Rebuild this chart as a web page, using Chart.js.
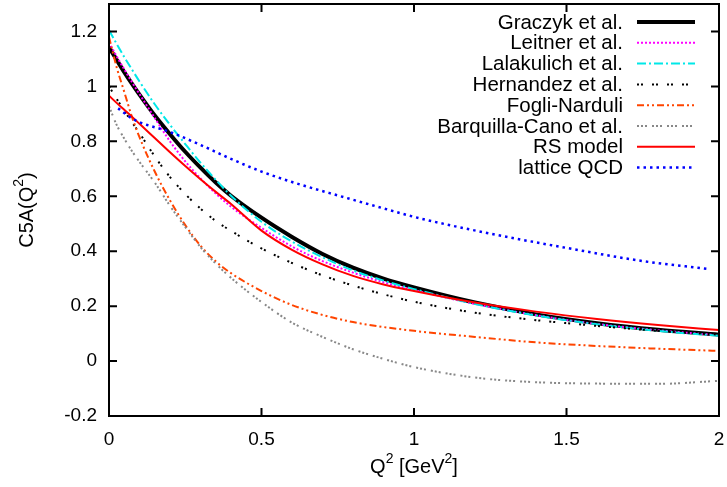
<!DOCTYPE html>
<html>
<head>
<meta charset="utf-8">
<script src="https://cdn.jsdelivr.net/npm/chart.js@4.4.0/dist/chart.umd.min.js"></script>
<style>
  html, body { margin: 0; padding: 0; background: #fff; }
</style>
</head>
<body>
<canvas id="c" width="727" height="487"></canvas>
<script>
// Q^2 grid (GeV^2) shared by the model curves
const qSq = [0, 0.025, 0.05, 0.075, 0.1, 0.15, 0.2, 0.25, 0.3, 0.35, 0.4, 0.5,
             0.6, 0.7, 0.8, 0.9, 1.0, 1.2, 1.4, 1.6, 1.8, 2.0];

const graczyk    = [1.143, 1.097, 1.052, 1.01, 0.97, 0.894, 0.826, 0.762, 0.704, 0.65, 0.602, 0.522,
                    0.452, 0.39, 0.34, 0.3, 0.268, 0.213, 0.17, 0.138, 0.114, 0.096];
const leitner    = [1.16, 1.11, 1.062, 1.016, 0.972, 0.885, 0.8, 0.727, 0.665, 0.61, 0.562, 0.485,
                    0.417, 0.364, 0.322, 0.287, 0.259, 0.208, 0.167, 0.135, 0.112, 0.094];
const lalakulich = [1.205, 1.155, 1.107, 1.062, 1.018, 0.935, 0.86, 0.79, 0.722, 0.66, 0.602, 0.507,
                    0.435, 0.378, 0.33, 0.293, 0.262, 0.208, 0.166, 0.134, 0.11, 0.092];
const hernandez  = [1.0, 0.955, 0.912, 0.87, 0.83, 0.745, 0.67, 0.608, 0.555, 0.51, 0.474, 0.41,
                    0.357, 0.312, 0.275, 0.243, 0.216, 0.176, 0.149, 0.128, 0.11, 0.096];
const fogli      = [1.18, 1.07, 0.98, 0.89, 0.815, 0.69, 0.585, 0.495, 0.42, 0.363, 0.32, 0.255,
                    0.204, 0.168, 0.142, 0.124, 0.11, 0.088, 0.068, 0.055, 0.045, 0.037];
const barquilla  = [0.928, 0.86, 0.81, 0.765, 0.725, 0.65, 0.565, 0.488, 0.415, 0.355, 0.303, 0.215,
                    0.14, 0.088, 0.043, 0.008, -0.022, -0.06, -0.077, -0.082, -0.083, -0.072];
const rsModel    = [0.966, 0.94, 0.915, 0.89, 0.864, 0.812, 0.76, 0.71, 0.662, 0.616, 0.572, 0.475,
                    0.405, 0.352, 0.31, 0.279, 0.255, 0.213, 0.18, 0.153, 0.131, 0.113];

// lattice points have their own Q^2 values
const qSqLattice = [0.03, 0.08, 0.2, 0.3, 0.4, 0.5, 0.6, 0.75, 0.9, 1.0, 1.25, 1.5, 1.75, 1.96];
const lattice    = [0.92, 0.88, 0.834, 0.787, 0.736, 0.69, 0.652, 0.603, 0.556, 0.525, 0.464, 0.412, 0.364, 0.336];

const xTicks = [0, 0.5, 1, 1.5, 2];
const xTickLabels = ['0', '0.5', '1', '1.5', '2'];
const yTicks = [-0.2, 0, 0.2, 0.4, 0.6, 0.8, 1, 1.2];
const yTickLabels = ['-0.2', '0', '0.2', '0.4', '0.6', '0.8', '1', '1.2'];

const FONT = '"Liberation Sans", Arial, sans-serif';

function pts(xs, ys) {
  return xs.map((x, i) => ({ x: x, y: ys[i] }));
}

const series = [
  { label: 'Graczyk et al.', data: pts(qSq, graczyk), color: '#000000', width: 4, dash: [] },
  { label: 'Leitner et al.', data: pts(qSq, leitner), color: '#ff00ff', width: 2, dash: [2, 2] },
  { label: 'Lalakulich et al.', data: pts(qSq, lalakulich), color: '#00e8e8', width: 2, dash: [9, 3, 2, 3] },
  { label: 'Hernandez et al.', data: pts(qSq, hernandez), color: '#000000', width: 2, dash: [2, 2, 2, 9] },
  { label: 'Fogli-Narduli', data: pts(qSq, fogli), color: '#ff4500', width: 2, dash: [7, 3, 2, 3, 2, 3] },
  { label: 'Barquilla-Cano et al.', data: pts(qSq, barquilla), color: '#888888', width: 2, dash: [2, 2, 2, 2, 2, 5] },
  { label: 'RS model', data: pts(qSq, rsModel), color: '#ff0000', width: 2, dash: [] },
  { label: 'lattice QCD', data: pts(qSqLattice, lattice), color: '#0000ff', width: 2.5, dash: [2.5, 4] }
];

// draws text with superscript pieces, parts = [[text, isSup], ...]
function richText(ctx, parts, x, y, size) {
  const big = size + 'px ' + FONT, small = Math.round(size * 0.7) + 'px ' + FONT;
  let w = 0;
  parts.forEach(p => { ctx.font = p[1] ? small : big; w += ctx.measureText(p[0]).width; });
  let cx = x - w / 2;
  ctx.textAlign = 'left';
  ctx.textBaseline = 'middle';
  parts.forEach(p => {
    ctx.font = p[1] ? small : big;
    ctx.fillText(p[0], cx, p[1] ? y - size * 0.38 : y);
    cx += ctx.measureText(p[0]).width;
  });
}

// no extra room for the end labels, the frame is placed by layout padding
function fixScale(s, size) {
  if (s.isHorizontal()) s.height = size; else s.width = size;
  s.paddingTop = 0; s.paddingBottom = 0; s.paddingLeft = 0; s.paddingRight = 0;
}

const gnuplotLook = {
  id: 'gnuplotLook',
  afterDraw(chart) {
    const ctx = chart.ctx, a = chart.chartArea;
    const xs = chart.scales.x, ys = chart.scales.y;
    ctx.save();
    ctx.strokeStyle = '#000';
    ctx.lineWidth = 2;
    ctx.setLineDash([]);
    ctx.strokeRect(a.left, a.top, a.right - a.left, a.bottom - a.top);
    // inward tick marks, mirrored
    const tl = 8;
    ctx.beginPath();
    xTicks.forEach(v => {
      const px = xs.getPixelForValue(v);
      ctx.moveTo(px, a.bottom); ctx.lineTo(px, a.bottom - tl);
      ctx.moveTo(px, a.top); ctx.lineTo(px, a.top + tl);
    });
    yTicks.forEach(v => {
      const py = ys.getPixelForValue(v);
      ctx.moveTo(a.left, py); ctx.lineTo(a.left + tl, py);
      ctx.moveTo(a.right, py); ctx.lineTo(a.right - tl, py);
    });
    ctx.stroke();

    // axis titles
    ctx.fillStyle = '#000';
    richText(ctx, [['Q', false], ['2', true], [' [GeV', false], ['2', true], [']', false]],
             (a.left + a.right) / 2, 467, 20);
    ctx.save();
    ctx.translate(27, (a.top + a.bottom) / 2);
    ctx.rotate(-Math.PI / 2);
    richText(ctx, [['C5A(Q', false], ['2', true], [')', false]], 0, 0, 20);
    ctx.restore();

    // key, text right aligned with the sample to its right
    const textX = 623, lineX0 = 637, lineX1 = 695;
    series.forEach((s, i) => {
      const y = 22 + i * 20.8;
      ctx.font = '20.5px ' + FONT;
      ctx.textAlign = 'right';
      ctx.textBaseline = 'middle';
      ctx.fillStyle = '#000';
      ctx.fillText(s.label, textX, y + 1);
      ctx.beginPath();
      ctx.strokeStyle = s.color;
      ctx.lineWidth = s.width;
      ctx.setLineDash(s.dash);
      ctx.moveTo(lineX0, y);
      ctx.lineTo(lineX1, y);
      ctx.stroke();
    });
    ctx.restore();
  }
};

new Chart(document.getElementById('c'), {
  type: 'line',
  data: {
    datasets: series.map((s, i) => ({
      label: s.label,
      data: s.data,
      borderColor: s.color,
      borderWidth: s.width,
      borderDash: s.dash,
      borderCapStyle: 'butt',
      pointRadius: 0,
      fill: false,
      cubicInterpolationMode: 'monotone',
      order: series.length - i
    }))
  },
  options: {
    responsive: false,
    animation: false,
    layout: { padding: { top: 4, right: 8, left: 0, bottom: 0 } },
    plugins: { legend: { display: false }, tooltip: { enabled: false } },
    scales: {
      x: {
        type: 'linear',
        min: 0,
        max: 2,
        afterBuildTicks: s => { s.ticks = xTicks.map(v => ({ value: v })); },
        afterFit: s => fixScale(s, 71),
        grid: { display: false, drawTicks: false },
        border: { display: false },
        ticks: {
          padding: 12,
          color: '#000',
          font: { family: FONT, size: 19 },
          maxRotation: 0,
          callback: v => xTickLabels[xTicks.indexOf(v)]
        }
      },
      y: {
        type: 'linear',
        min: -0.2,
        max: 1.3,
        afterBuildTicks: s => { s.ticks = yTicks.map(v => ({ value: v })); },
        afterFit: s => fixScale(s, 109),
        grid: { display: false, drawTicks: false },
        border: { display: false },
        ticks: {
          padding: 12,
          color: '#000',
          font: { family: FONT, size: 19 },
          callback: v => yTickLabels[yTicks.indexOf(v)]
        }
      }
    }
  },
  plugins: [gnuplotLook]
});
</script>
</body>
</html>
